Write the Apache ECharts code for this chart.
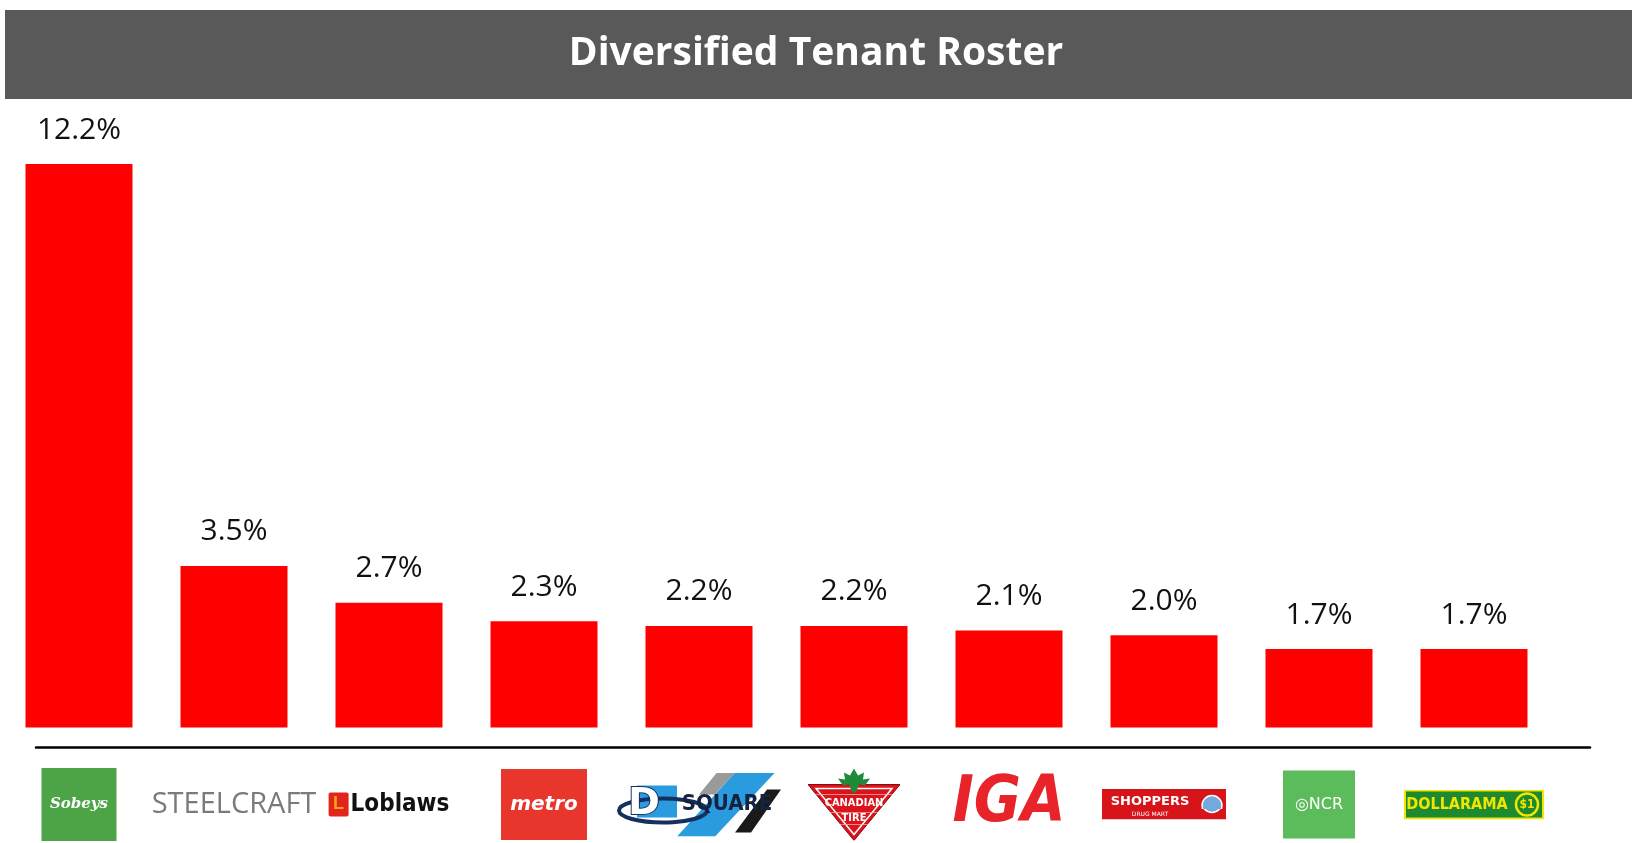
<!DOCTYPE html>
<html>
<head>
<meta charset="utf-8">
<title>Diversified Tenant Roster</title>
<script src="https://cdn.jsdelivr.net/npm/echarts@6/dist/echarts.min.js"></script>
<style>
  html, body { margin: 0; padding: 0; background: #fff; }
  #chart { width: 1632px; height: 843px; }
</style>
</head>
<body>
<div id="chart"></div>
<script>
// tenants, ordered by share of base rent
var tenants = ['Sobeys', 'STEELCRAFT', 'Loblaws', 'metro', 'DSQUARE', 'Canadian Tire', 'IGA', 'Shoppers Drug Mart', 'NCR', 'Dollarama'];
var sharePct = [12.2, 3.5, 2.7, 2.3, 2.2, 2.2, 2.1, 2.0, 1.7, 1.7];
var chartTitle = 'Diversified Tenant Roster';

// small svg helper for the logo backgrounds
function svgUrl(viewBox, w, h, body) {
  var s = '<svg xmlns="http://www.w3.org/2000/svg" width="' + w + '" height="' + h +
    '" viewBox="' + viewBox + '" preserveAspectRatio="none">' + body + '</svg>';
  return 'data:image/svg+xml;charset=utf-8,' + encodeURIComponent(s);
}

var ctDraw =
  '<polygon points="0,16 92,16 46,72" fill="#d9141c" stroke="#8a0c10" stroke-width="1"/>' +
  '<polygon points="8,20 84,20 46,66" fill="none" stroke="#fff" stroke-width="1.5"/>' +
  '<polygon points="46,0 50,7 56,4 55,11 62,10 57,17 51,16 48,24 44,24 41,16 35,17 30,10 37,11 36,4 42,7" fill="#1f8a3a"/>';
var dsDraw =
  '<rect x="20" y="13" width="40" height="32" fill="#2b9be0"/>' +
  '<polygon points="118,0 158,0 98,64 60,64" fill="#2b9be0"/>' +
  '<polygon points="100,0 118,0 98,22 82,22" fill="#9a9a9a"/>' +
  '<polygon points="150,17 164,17 134,60 118,60" fill="#1a1a1a"/>' +
  '<ellipse cx="46" cy="38" rx="44" ry="12" fill="none" stroke="#14305e" stroke-width="4"/>';
var shDraw =
  '<rect x="0" y="0" width="124" height="34" fill="#d7141a"/>' +
  '<circle cx="110" cy="17" r="10" fill="#74a9dd" stroke="#fff" stroke-width="1.5"/>';
var dlDraw =
  '<rect x="1" y="1" width="138" height="28" fill="#1d8a2f" stroke="#f2e600" stroke-width="2"/>' +
  '<circle cx="123" cy="15" r="11" fill="#1d8a2f" stroke="#f2e600" stroke-width="2.5"/>';

function ctTok(y0, h, fs) {
  return {
    backgroundColor: { image: svgUrl('0 ' + y0 + ' 92 ' + h, 92, h, ctDraw) },
    color: '#fff', fontFamily: 'DejaVu Sans Condensed', fontWeight: 'bold', fontSize: fs,
    width: 92, height: h, lineHeight: h, align: 'center'
  };
}

var logoRich = {
  sob: { backgroundColor: '#4da447', color: '#fff', fontStyle: 'italic', fontWeight: 'bold',
         fontFamily: 'DejaVu Serif', fontSize: 15, width: 75, height: 73, lineHeight: 73, align: 'center' },
  stl: { color: '#7a7a7a', fontFamily: 'Open Sans', fontSize: 29, height: 40, lineHeight: 40 },
  lbI: { backgroundColor: '#e1251b', color: '#f6a21a', fontWeight: 'bold', fontSize: 18,
         width: 20, height: 24, lineHeight: 24, align: 'center', borderRadius: 2 },
  lbT: { color: '#111', fontWeight: 'bold', fontFamily: 'DejaVu Sans Condensed', fontSize: 24,
         height: 30, lineHeight: 30, padding: [0, 0, 0, 2] },
  met: { backgroundColor: '#e8362c', color: '#fff', fontStyle: 'italic', fontWeight: 'bold',
         fontFamily: 'DejaVu Sans', fontSize: 20, width: 86, height: 71, lineHeight: 71, align: 'center' },
  dsA: { backgroundColor: { image: svgUrl('0 0 56 64', 56, 64, dsDraw) }, color: '#fff',
         textBorderColor: '#14305e', textBorderWidth: 2,
         fontWeight: 'bold', fontFamily: 'DejaVu Sans', fontSize: 38,
         width: 54, height: 64, lineHeight: 64, align: 'right', padding: [0, 2, 0, 0] },
  dsB: { backgroundColor: { image: svgUrl('56 0 108 64', 108, 64, dsDraw) }, color: '#14233f',
         fontWeight: 'bold', fontFamily: 'DejaVu Sans Condensed', fontSize: 22,
         width: 108, height: 64, lineHeight: 64, align: 'left' },
  ctL: ctTok(0, 26, 10),
  ctA: ctTok(26, 18, 11),
  ctB: ctTok(44, 12, 11),
  ctC: ctTok(56, 16, 10),
  iga: { color: '#e8232a', fontStyle: 'italic', fontWeight: 'bold', fontFamily: 'DejaVu Sans Condensed',
         fontSize: 64, height: 60, lineHeight: 60 },
  shA: { backgroundColor: { image: svgUrl('0 0 124 23', 124, 23, shDraw) }, color: '#fff',
         fontWeight: 'bold', fontFamily: 'DejaVu Sans', fontSize: 13, width: 96, height: 19, lineHeight: 19,
         padding: [4, 28, 0, 0], align: 'center' },
  shB: { backgroundColor: { image: svgUrl('0 23 124 11', 124, 11, shDraw) }, color: '#fff',
         fontFamily: 'DejaVu Sans', fontSize: 6, width: 96, height: 11, lineHeight: 9,
         padding: [0, 28, 0, 0], align: 'center' },
  ncr: { backgroundColor: '#5cbb5a', color: '#fff', fontFamily: 'DejaVu Sans', fontSize: 16,
         width: 72, height: 68, lineHeight: 68, align: 'center' },
  dlA: { backgroundColor: { image: svgUrl('0 0 106 30', 106, 30, dlDraw) }, color: '#f2e600',
         fontWeight: 'bold', fontFamily: 'DejaVu Sans Condensed', fontSize: 16,
         width: 106, height: 30, lineHeight: 30, align: 'center' },
  dlB: { backgroundColor: { image: svgUrl('106 0 34 30', 34, 30, dlDraw) }, color: '#f2e600',
         fontWeight: 'bold', fontFamily: 'DejaVu Sans Condensed', fontSize: 12,
         width: 34, height: 30, lineHeight: 30, align: 'center' }
};

var logoText = {
  'Sobeys': '{sob|Sobeys}',
  'STEELCRAFT': '{stl|STEELCRAFT}',
  'Loblaws': '{lbI|L}{lbT|Loblaws}',
  'metro': '{met|metro}',
  'DSQUARE': '{dsA|D}{dsB|SQUARE}',
  'Canadian Tire': '{ctL| }\n{ctA|CANADIAN}\n{ctB|TIRE}\n{ctC| }',
  'IGA': '{iga|IGA}',
  'Shoppers Drug Mart': '{shA|SHOPPERS}\n{shB|DRUG MART}',
  'NCR': '{ncr|◎NCR}',
  'Dollarama': '{dlA|DOLLARAMA}{dlB|$1}'
};

var chart = echarts.init(document.getElementById('chart'), null, { renderer: 'canvas' });

var option = {
  backgroundColor: '#fff',
  animation: false,
  graphic: [{
    type: 'rect',
    left: 5, top: 10,
    shape: { width: 1627, height: 89 },
    style: { fill: '#595959' },
    z: 0
  }],
  title: {
    text: chartTitle,
    left: 'center',
    top: 34,
    padding: 0,
    textStyle: { color: '#fff', fontFamily: 'Open Sans', fontWeight: 'bold', fontSize: 39 }
  },
  grid: [
    { left: 1.5, right: 80.5, top: 81, bottom: 115.5 },
    { left: 36, right: 42, top: 746, height: 1 }
  ],
  xAxis: [{
    type: 'category',
    gridIndex: 0,
    data: tenants,
    axisLine: { show: false },
    axisTick: { show: false },
    axisLabel: {
      interval: 0,
      margin: 77,
      verticalAlign: 'middle',
      hideOverlap: false,
      formatter: function (v) { return logoText[v] || v; },
      rich: logoRich
    }
  }, {
    type: 'category',
    gridIndex: 1,
    data: [],
    axisLine: { show: true, lineStyle: { color: '#000', width: 2.5 } },
    axisTick: { show: false },
    axisLabel: { show: false }
  }],
  yAxis: [{
    type: 'value',
    gridIndex: 0,
    min: 0,
    max: 14,
    show: false
  }, {
    type: 'value',
    gridIndex: 1,
    show: false
  }],
  series: [{
    type: 'bar',
    data: sharePct,
    barWidth: 107,
    itemStyle: { color: '#ff0000' },
    label: {
      show: true,
      position: 'top',
      distance: 19,
      color: '#111',
      fontFamily: 'Open Sans',
      fontSize: 30,
      formatter: function (p) { return p.value.toFixed(1) + '%'; }
    }
  }]
};

chart.setOption(option);
</script>
</body>
</html>
